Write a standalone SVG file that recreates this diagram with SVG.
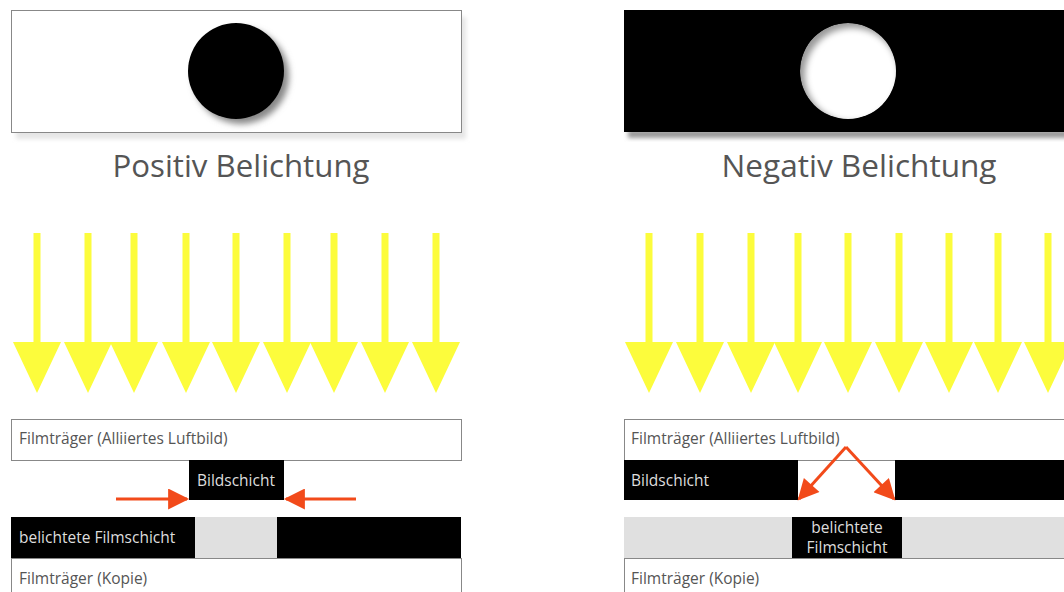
<svg xmlns="http://www.w3.org/2000/svg" width="1064" height="592" viewBox="0 0 1064 592">
<defs>
<style>
.title{font-family:"Open Sans","Liberation Sans",sans-serif;font-size:31px;fill:#555}
.lbl{font-family:"Open Sans","Liberation Sans",sans-serif;font-size:15.5px;fill:#555}
.lblw{font-family:"Open Sans","Liberation Sans",sans-serif;font-size:15.5px;fill:#ddd}
.box{fill:#fff;stroke:#888;stroke-width:1}
.ray{fill:#fcfc3c}
.red{stroke:#f24a1a;stroke-width:3;fill:none}
</style>
<filter id="blur" x="-20%" y="-20%" width="140%" height="140%"><feGaussianBlur stdDeviation="3"/></filter>
<filter id="blur2" x="-20%" y="-50%" width="140%" height="200%"><feGaussianBlur stdDeviation="2"/></filter>
<clipPath id="hole"><circle cx="848" cy="71" r="48"/></clipPath>
<marker id="rh" viewBox="0 0 10 10" refX="9" refY="5" markerWidth="7.5" markerHeight="7" orient="auto" markerUnits="strokeWidth">
<path d="M0,0 L10,5 L0,10 Z" fill="#f24a1a"/>
</marker>
<path id="ray" d="M-3.5,0 H3.5 V109 H24 L0,160 L-24,109 H-3.5 Z"/>
</defs>

<g id="positive-mask">
<rect x="16" y="17" width="450" height="122" fill="#e6e6e6" filter="url(#blur2)"/>
<rect class="box" x="11.5" y="10.5" width="450" height="122"/>
<circle cx="241" cy="76" r="48" fill="#888" filter="url(#blur)"/>
<circle cx="236" cy="71" r="48" fill="#000"/>
</g>
<g id="positive-title"><text class="title" x="241" y="177" text-anchor="middle" textLength="257" lengthAdjust="spacingAndGlyphs">Positiv Belichtung</text></g>

<g id="negative-mask">
<rect x="628" y="130" width="440" height="8" fill="#999" filter="url(#blur2)"/>
<rect x="624" y="10" width="440" height="122" fill="#000"/>
<g clip-path="url(#hole)">
<circle cx="848" cy="71" r="48" fill="#999"/>
<circle cx="852" cy="75" r="47" fill="#fff" filter="url(#blur)"/>
</g>
</g>
<g id="negative-title"><text class="title" x="859" y="177" text-anchor="middle" textLength="275" lengthAdjust="spacingAndGlyphs">Negativ Belichtung</text></g>

<g id="light-left">
<use href="#ray" class="ray" x="37" y="233"/>
<use href="#ray" class="ray" x="88" y="233"/>
<use href="#ray" class="ray" x="134" y="233"/>
<use href="#ray" class="ray" x="186" y="233"/>
<use href="#ray" class="ray" x="236" y="233"/>
<use href="#ray" class="ray" x="287" y="233"/>
<use href="#ray" class="ray" x="334" y="233"/>
<use href="#ray" class="ray" x="385" y="233"/>
<use href="#ray" class="ray" x="436" y="233"/>
</g>
<g id="light-right">
<use href="#ray" class="ray" x="649" y="233"/>
<use href="#ray" class="ray" x="700" y="233"/>
<use href="#ray" class="ray" x="751" y="233"/>
<use href="#ray" class="ray" x="798" y="233"/>
<use href="#ray" class="ray" x="848" y="233"/>
<use href="#ray" class="ray" x="899" y="233"/>
<use href="#ray" class="ray" x="949" y="233"/>
<use href="#ray" class="ray" x="998" y="233"/>
<use href="#ray" class="ray" x="1048" y="233"/>
</g>

<g id="left-traeger">
<rect class="box" x="11.5" y="419.5" width="450" height="41"/>
<text class="lbl" x="19" y="444">Filmträger (Alliiertes Luftbild)</text>
</g>
<g id="left-bildschicht">
<rect x="189" y="460" width="95" height="40" fill="#000"/>
<text class="lblw" x="236" y="486" text-anchor="middle">Bildschicht</text>
</g>
<g id="left-filmschicht">
<rect x="11" y="517" width="450" height="41" fill="#000"/>
<rect x="195" y="517" width="82" height="41" fill="#e0e0e0"/>
<text class="lblw" x="19" y="543">belichtete Filmschicht</text>
</g>
<g id="left-kopie">
<rect class="box" x="11.5" y="558.5" width="450" height="40"/>
<text class="lbl" x="19" y="584">Filmträger (Kopie)</text>
</g>

<g id="right-traeger">
<rect class="box" x="624.5" y="419.5" width="450" height="41"/>
<text class="lbl" x="631" y="444">Filmträger (Alliiertes Luftbild)</text>
</g>
<g id="right-bildschicht">
<rect x="624" y="460" width="174" height="40" fill="#000"/>
<rect x="895" y="460" width="169" height="40" fill="#000"/>
<text class="lblw" x="631" y="486">Bildschicht</text>
</g>
<g id="right-filmschicht">
<rect x="624" y="517" width="440" height="41" fill="#e0e0e0"/>
<rect x="792" y="517" width="110" height="41" fill="#000"/>
<text class="lblw" x="847" y="533" text-anchor="middle">belichtete</text>
<text class="lblw" x="847" y="553" text-anchor="middle">Filmschicht</text>
</g>
<g id="right-kopie">
<rect class="box" x="624.5" y="558.5" width="450" height="40"/>
<text class="lbl" x="631" y="584">Filmträger (Kopie)</text>
</g>

<g id="connectors">
<line class="red" x1="116" y1="499" x2="187" y2="499" marker-end="url(#rh)"/>
<line class="red" x1="356" y1="499" x2="286" y2="499" marker-end="url(#rh)"/>
<line class="red" x1="846" y1="447" x2="799" y2="499" marker-end="url(#rh)"/>
<line class="red" x1="846" y1="447" x2="894" y2="499" marker-end="url(#rh)"/>
</g>
</svg>
